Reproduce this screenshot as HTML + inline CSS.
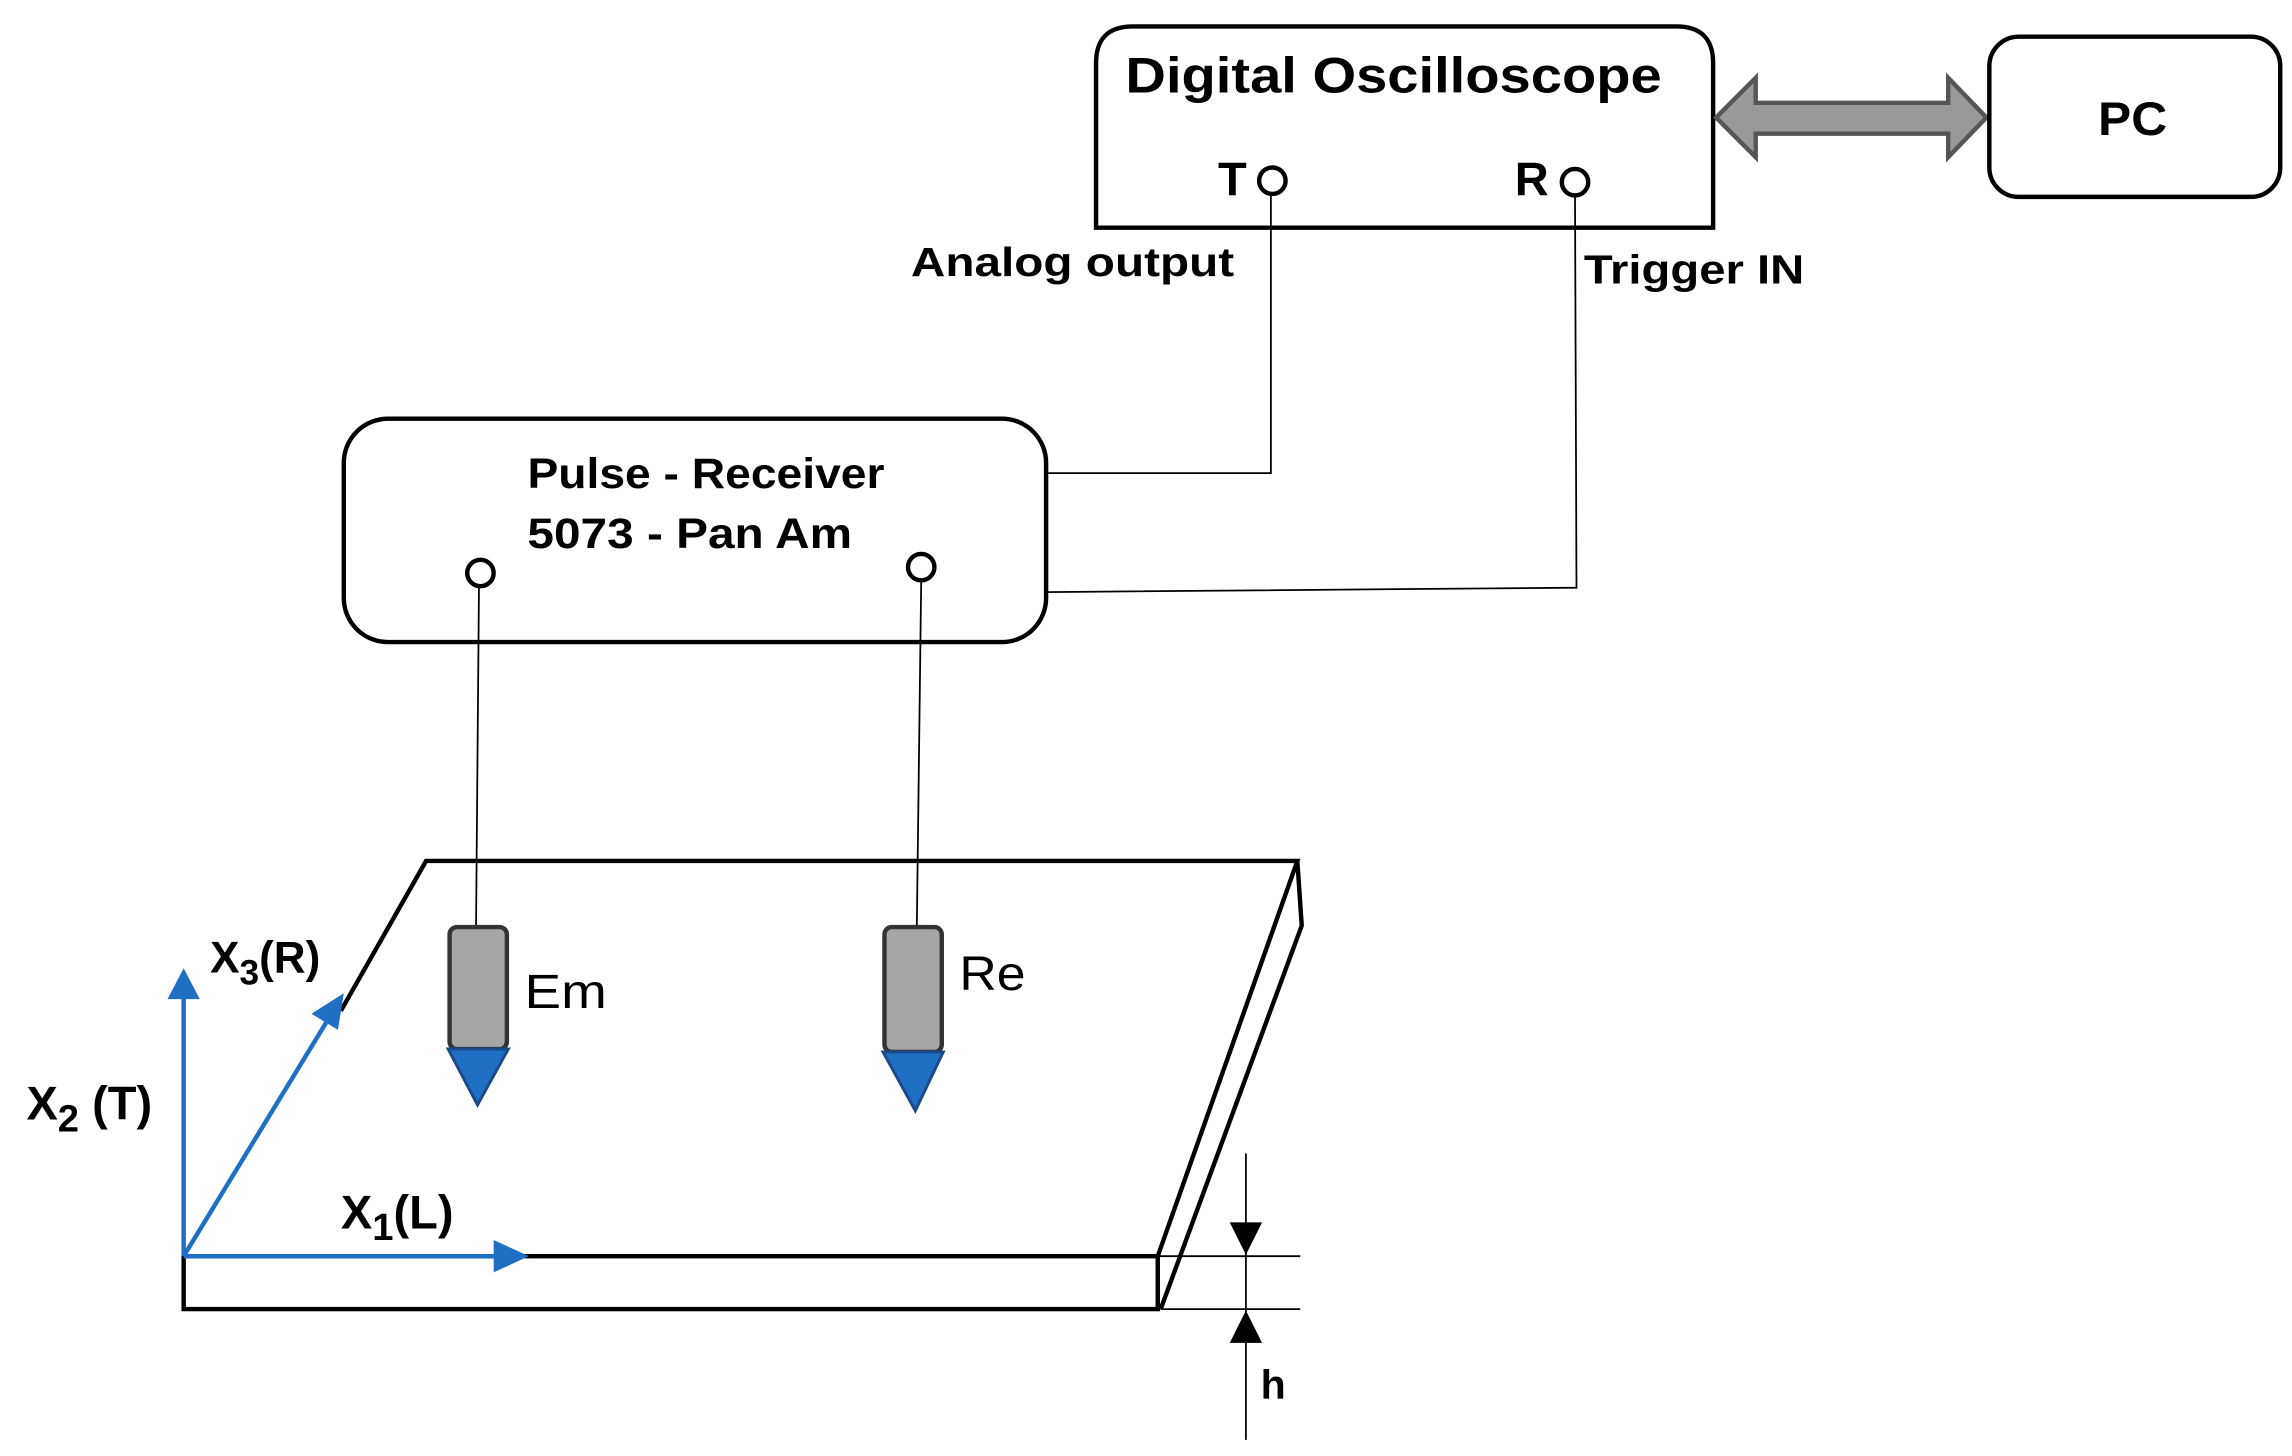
<!DOCTYPE html>
<html><head><meta charset="utf-8"><style>html,body{margin:0;padding:0;background:#fff}svg{display:block}</style></head>
<body>
<svg width="2292" height="1456" viewBox="0 0 1560 991" preserveAspectRatio="none" xmlns="http://www.w3.org/2000/svg" font-family="Liberation Sans, sans-serif">
<path d="M746 155 V43 Q746 18 771 18 H1141 Q1166 18 1166 43 V155 Z" fill="none" stroke="#000" stroke-width="3"/>
<text x="766" y="63" font-size="34" font-weight="bold" textLength="365" lengthAdjust="spacingAndGlyphs">Digital Oscilloscope</text>
<text x="829" y="133" font-size="32" font-weight="bold">T</text>
<circle cx="866" cy="123" r="9" fill="#fff" stroke="#000" stroke-width="3"/>
<text x="1031" y="133" font-size="32" font-weight="bold">R</text>
<circle cx="1072" cy="124" r="9" fill="#fff" stroke="#000" stroke-width="3"/>
<polygon points="1168,80 1195,53 1195,70 1326,70 1326,53 1352,80 1326,107 1326,91 1195,91 1195,107" fill="#999" stroke="#555" stroke-width="3"/>
<rect x="1354" y="25" width="198" height="109" rx="20" fill="none" stroke="#000" stroke-width="3"/>
<text x="1428" y="92" font-size="32" font-weight="bold" textLength="47" lengthAdjust="spacingAndGlyphs">PC</text>
<text x="620" y="188" font-size="28" font-weight="bold" textLength="220" lengthAdjust="spacingAndGlyphs">Analog output</text>
<text x="1078" y="193" font-size="28" font-weight="bold" textLength="150" lengthAdjust="spacingAndGlyphs">Trigger IN</text>
<polyline points="865,132 865,322 712,322" fill="none" stroke="#000" stroke-width="1.2"/>
<polyline points="1072,133 1073,400 712,403" fill="none" stroke="#000" stroke-width="1.2"/>
<rect x="234" y="285" width="478" height="152" rx="30" fill="none" stroke="#000" stroke-width="3"/>
<text x="359" y="332" font-size="29" font-weight="bold" textLength="243" lengthAdjust="spacingAndGlyphs">Pulse - Receiver</text>
<text x="359" y="373" font-size="29" font-weight="bold" textLength="221" lengthAdjust="spacingAndGlyphs">5073 - Pan Am</text>
<circle cx="327" cy="390" r="9" fill="#fff" stroke="#000" stroke-width="3"/>
<circle cx="627" cy="386" r="9" fill="#fff" stroke="#000" stroke-width="3"/>
<line x1="326" y1="399" x2="324" y2="632" stroke="#000" stroke-width="1.2"/>
<line x1="627" y1="395" x2="624" y2="632" stroke="#000" stroke-width="1.2"/>
<g fill="none" stroke="#000" stroke-width="3">
<polyline points="232,688 290,586 883,586 788,855"/>
<polyline points="883,586 886,630 790,891"/>
<rect x="125" y="855" width="663" height="36"/>
</g>
<rect x="306" y="631" width="39" height="83" rx="5" fill="#a6a6a6" stroke="#333" stroke-width="3"/>
<polygon points="305,714 346,714 325,752" fill="#1f6fc5" stroke="#1a4a8a" stroke-width="2"/>
<text x="357" y="686" font-size="33" textLength="56" lengthAdjust="spacingAndGlyphs">Em</text>
<rect x="602" y="631" width="39" height="85" rx="5" fill="#a6a6a6" stroke="#333" stroke-width="3"/>
<polygon points="601,716 642,716 623,756" fill="#1f6fc5" stroke="#1a4a8a" stroke-width="2"/>
<text x="653" y="674" font-size="33" textLength="45" lengthAdjust="spacingAndGlyphs">Re</text>
<g stroke="#1f6fc5" stroke-width="3" fill="#1f6fc5">
<line x1="125" y1="855" x2="125" y2="675"/>
<polygon points="114,680 136,680 125,659" stroke="none"/>
<line x1="125" y1="855" x2="222" y2="696"/>
<polygon points="212,690 230,701 234,676" stroke="none"/>
<line x1="125" y1="855" x2="340" y2="855"/>
<polygon points="336,844 336,866 360,855" stroke="none"/>
</g>
<text x="143" y="662" font-size="30" font-weight="bold">X<tspan font-size="24" dy="8">3</tspan><tspan dy="-8">(R)</tspan></text>
<text x="18" y="762" font-size="32" font-weight="bold">X<tspan font-size="26" dy="8">2</tspan><tspan dy="-8"> (T)</tspan></text>
<text x="232" y="836" font-size="32" font-weight="bold">X<tspan font-size="26" dy="8">1</tspan><tspan dy="-8">(L)</tspan></text>
<g stroke="#000" stroke-width="1.2">
<line x1="788" y1="855" x2="885" y2="855"/>
<line x1="790" y1="891" x2="885" y2="891"/>
<line x1="848" y1="785" x2="848" y2="980"/>
</g>
<polygon points="837,832 859,832 848,854"/>
<polygon points="837,914 859,914 848,892"/>
<text x="858" y="952" font-size="28" font-weight="bold">h</text>
</svg>
</body></html>
